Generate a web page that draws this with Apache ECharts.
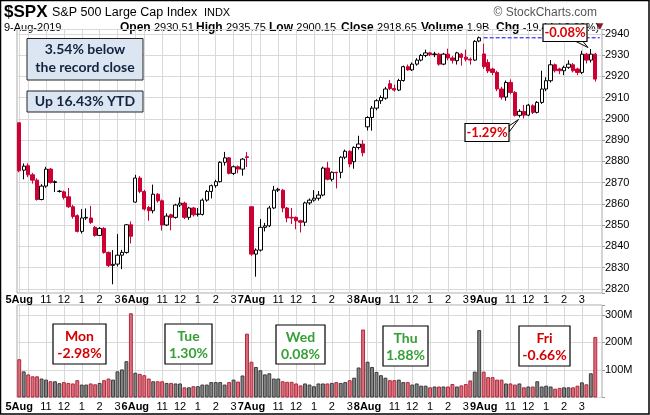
<!DOCTYPE html>
<html><head><meta charset="utf-8">
<script src="https://cdn.jsdelivr.net/npm/echarts@6/dist/echarts.min.js"></script>
<style>html,body{margin:0;padding:0;background:#fff}#c{width:650px;height:415px}</style>
</head><body><div id="c"></div>
<script>
// ---- axis / tick data ----
const dayLabels = ['5Aug', '6Aug', '7Aug', '8Aug', '9Aug'];
const hourLabels = ['11', '12', '1', '2', '3'];
const hourBarOffsets = [6, 10, 14, 18, 22];
const gridBarOffsets = [0, 2, 6, 10, 14, 18, 22];
const barsPerDay = 26;
const priceMin = 2818, priceMax = 2942, priceStep = 10;
const volMax = 336, volStep = 100;

// ---- 15-minute bars: [open, close, low, high] ----
const aug5Bars = [
  [2898.1,2875.5,2874.8,2898.1],[2875.8,2877.7,2871.5,2879.0],[2877.9,2873.6,2872.5,2879.0],
  [2873.6,2871.1,2869.5,2874.5],[2871.1,2862.0,2861.5,2872.0],[2862.0,2868.3,2861.6,2869.2],
  [2868.3,2876.3,2867.5,2877.4],[2876.3,2870.0,2869.5,2876.8],[2870.0,2870.4,2865.5,2871.0],
  [2865.8,2865.9,2865.3,2866.4],[2865.6,2863.0,2862.0,2866.2],[2863.3,2858.6,2858.0,2867.4],
  [2858.6,2854.0,2853.0,2859.5],[2854.4,2847.0,2846.5,2855.0],[2847.0,2853.3,2846.0,2857.5],
  [2853.3,2853.6,2852.4,2857.8],[2853.3,2851.2,2850.5,2859.0],[2848.9,2845.1,2844.5,2849.5],
  [2845.1,2848.4,2844.8,2849.0],[2848.4,2837.1,2836.5,2849.0],[2837.1,2831.0,2830.2,2837.5],
  [2831.0,2831.5,2822.1,2838.2],[2831.6,2835.8,2830.5,2845.7],[2835.8,2837.1,2829.2,2838.3],
  [2837.1,2850.1,2836.5,2850.5],[2850.1,2844.7,2841.3,2851.7]
];
const aug6Bars = [
  [2860.8,2872.1,2860.5,2873.6],[2872.1,2865.8,2865.0,2873.0],[2865.8,2857.5,2856.8,2866.5],
  [2858.3,2856.7,2852.0,2859.0],[2856.7,2864.5,2855.5,2869.0],[2864.5,2861.4,2860.5,2865.0],
  [2861.4,2850.0,2847.4,2862.0],[2850.0,2854.2,2849.5,2855.5],[2854.8,2853.6,2847.5,2855.3],
  [2853.6,2859.4,2853.0,2860.0],[2859.4,2860.3,2858.5,2863.0],[2860.3,2853.6,2852.8,2861.0],
  [2853.6,2858.0,2852.4,2858.6],[2858.0,2854.8,2854.0,2858.5],[2855.0,2855.2,2854.0,2858.0],
  [2855.0,2861.7,2854.5,2862.5],[2861.7,2865.8,2861.0,2866.5],[2865.8,2868.5,2862.5,2869.0],
  [2868.5,2870.4,2867.5,2871.3],[2870.4,2879.5,2870.0,2880.0],[2879.5,2881.6,2878.0,2884.4],
  [2881.6,2874.3,2873.8,2882.0],[2874.3,2877.4,2873.5,2878.0],[2877.4,2876.3,2874.3,2878.0],
  [2876.3,2881.0,2873.2,2881.5],[2882.1,2881.8,2877.3,2884.3]
];
const aug7Bars = [
  [2858.6,2836.3,2835.5,2858.7],[2836.3,2838.2,2825.7,2839.0],[2838.2,2848.9,2837.5,2852.8],
  [2848.9,2849.6,2847.0,2851.0],[2849.6,2858.0,2849.0,2859.0],[2858.0,2866.4,2857.5,2868.4],
  [2866.4,2866.8,2865.5,2867.5],[2866.4,2858.0,2856.0,2867.0],[2858.0,2853.3,2851.3,2858.5],
  [2853.6,2853.3,2850.5,2858.0],[2853.6,2852.0,2848.0,2854.0],[2852.0,2851.3,2846.5,2852.5],
  [2851.3,2860.4,2849.5,2861.0],[2860.4,2861.7,2859.5,2862.5],[2861.7,2862.6,2861.0,2866.4],
  [2862.6,2864.1,2861.5,2866.0],[2864.1,2876.8,2863.5,2877.5],[2876.8,2871.5,2871.0,2879.7],
  [2871.5,2874.8,2870.5,2875.2],[2874.8,2874.6,2867.2,2875.0],[2874.8,2881.9,2872.0,2882.3],
  [2881.9,2884.7,2881.0,2885.5],[2884.7,2878.7,2877.2,2885.2],[2879.8,2886.5,2876.5,2887.0],
  [2886.5,2888.1,2885.5,2892.0],[2888.1,2884.0,2882.3,2890.0]
];
const aug8Bars = [
  [2896.2,2900.6,2894.5,2901.2],[2900.6,2905.0,2894.4,2906.0],[2905.0,2908.5,2904.0,2909.2],
  [2908.5,2910.0,2907.0,2911.0],[2909.7,2914.0,2909.0,2915.0],[2916.5,2914.2,2913.5,2918.2],
  [2914.2,2913.5,2912.8,2916.0],[2913.5,2918.0,2913.0,2918.8],[2918.0,2924.5,2917.5,2925.0],
  [2924.5,2923.0,2922.6,2925.5],[2923.0,2925.7,2922.5,2926.5],[2925.7,2927.6,2925.0,2928.5],
  [2927.6,2929.8,2927.0,2930.5],[2929.8,2931.0,2929.0,2932.5],[2931.0,2930.2,2929.5,2931.5],
  [2930.2,2930.5,2929.0,2931.5],[2930.4,2925.7,2925.0,2931.0],[2925.7,2930.4,2925.2,2931.0],
  [2930.4,2928.6,2927.5,2933.0],[2928.6,2927.5,2926.0,2929.5],[2927.3,2931.0,2925.5,2931.5],
  [2930.4,2928.9,2925.0,2931.0],[2929.0,2928.0,2927.0,2932.5],[2928.0,2927.6,2925.5,2928.8],
  [2927.6,2936.4,2927.2,2937.0],[2936.6,2938.1,2936.0,2938.7]
];
const aug9Bars = [
  [2930.5,2924.5,2923.5,2935.3],[2926.5,2922.5,2921.5,2928.0],[2923.4,2921.8,2920.5,2924.0],
  [2921.8,2914.0,2913.0,2922.6],[2914.0,2910.2,2909.0,2915.0],[2910.2,2917.1,2908.5,2918.0],
  [2917.1,2912.4,2911.5,2918.5],[2912.4,2901.6,2901.0,2913.0],[2901.6,2903.5,2900.6,2904.5],
  [2903.5,2901.7,2900.15,2906.5],[2901.7,2906.4,2901.2,2907.0],[2906.1,2903.0,2902.2,2906.8],
  [2903.0,2907.7,2902.5,2908.3],[2907.7,2914.0,2907.0,2922.6],[2914.0,2917.9,2913.0,2919.5],
  [2917.9,2925.4,2917.0,2927.6],[2925.4,2922.6,2921.8,2926.0],[2923.4,2922.6,2921.0,2924.0],
  [2922.6,2924.2,2920.5,2925.0],[2924.2,2925.7,2923.5,2927.5],[2925.4,2922.6,2921.8,2926.2],
  [2923.4,2921.8,2920.5,2924.0],[2921.8,2930.4,2921.0,2932.0],[2930.4,2927.6,2926.0,2931.0],
  [2927.6,2930.4,2926.5,2932.8],[2930.4,2918.65,2917.5,2931.0]
];

// ---- volume per bar (millions) ----
const aug5Vol = [139,95,84,77,77,69,65,59,59,52,56,53,51,63,47,47,51,48,53,63,69,65,95,102,132,306];
const aug6Vol = [90,86,81,69,59,59,59,53,53,51,51,37,37,41,41,47,47,56,56,56,47,56,65,58,80,232];
const aug7Vol = [130,111,99,84,88,69,69,59,57,57,51,44,51,47,41,51,51,51,53,56,53,56,63,72,109,247];
const aug8Vol = [130,111,93,81,72,63,63,65,56,56,47,51,43,43,37,40,40,40,40,49,40,44,49,62,94,245];
const aug9Vol = [94,74,74,65,65,51,51,47,51,37,40,40,59,40,43,40,32,35,37,37,37,43,55,48,88,220];

const prevClose = 2938.09;

// ---- texts ----
const headerDate = '9-Aug-2019';
const quoteLabels = ['Open', 'High', 'Low', 'Close', 'Volume', 'Chg'];
const quoteValues = ['2930.51', '2935.75', '2900.15', '2918.65', '1.9B', '-19.44 (-0.66%)'];
const noteLines = ['3.54% below', 'the record close'];
const ytdNote = 'Up 16.43% YTD';
const dayNames = ['Mon', 'Tue', 'Wed', 'Thu', 'Fri'];
const dayChanges = ['-2.98%', '1.30%', '0.08%', '1.88%', '-0.66%'];
const calloutTexts = ['-0.08%', '-1.29%'];

// ---- build ----
const allBars = [].concat(aug5Bars, aug6Bars, aug7Bars, aug8Bars, aug9Bars);
const allVol = [].concat(aug5Vol, aug6Vol, aug7Vol, aug8Vol, aug9Vol);
const nBars = allBars.length;
const cats = [];
for (let i = 0; i <= nBars; i++) cats.push('c' + i);
function labelFor(i) {
  if (i >= nBars) return '';
  const k = i % barsPerDay, d = Math.floor(i / barsPerDay);
  if (k === 0) return '{d|' + dayLabels[d] + '}';
  const h = hourBarOffsets.indexOf(k);
  return h >= 0 ? hourLabels[h] : '';
}
const splitFn = (i) => i < nBars && gridBarOffsets.indexOf(i % barsPerDay) >= 0;
const labelFn = (i) => labelFor(i) !== '';
const volData = allVol.map((v, i) => {
  const up = allBars[i][1] >= allBars[i][0];
  return { value: v, itemStyle: up ? { color: '#858585', borderColor: '#3c3c3c' } : { color: '#d9707c', borderColor: '#b3283b' } };
});
const lastDayStart = nBars - barsPerDay;
const prevLine = cats.map((c, i) => i >= lastDayStart ? prevClose : null);

const F = '"Liberation Sans", Arial, sans-serif';
const L = 'Lato, "Open Sans", sans-serif';
const GRID = '#d9d9d9';

function xAxisCfg(gi) {
  return {
    type: 'category', gridIndex: gi, data: cats, boundaryGap: true,
    axisLine: { show: false }, axisTick: { show: false },
    axisLabel: {
      interval: labelFn, formatter: (v, i) => labelFor(i), margin: gi === 0 ? 1 : 4,
      color: '#000', fontFamily: F, fontSize: 11, hideOverlap: false,
      rich: { d: { fontWeight: 'bold', fontSize: 11, fontFamily: F, color: '#000' } }
    },
    splitLine: { show: true, interval: splitFn, alignWithLabel: true, lineStyle: { color: GRID, width: 1 } }
  };
}

const quoteX = [120, 196, 269, 341, 421, 496];
const graphics = [
  { type: 'text', x: 4, y: 12, style: { text: '$SPX', font: 'bold 17px ' + F, fill: '#000', verticalAlign: 'middle' } },
  { type: 'text', x: 52, y: 13, style: { text: '{a|S&P 500 Large Cap Index}  {c|INDX}', verticalAlign: 'middle',
      rich: { a: { font: '12.5px ' + F, fill: '#000' }, c: { font: '11px ' + F, fill: '#000' } } } },
  { type: 'text', x: 597, y: 13, style: { text: '\u00A9 StockCharts.com', font: '12px ' + F, fill: '#555', align: 'right', verticalAlign: 'middle' } },
  { type: 'text', x: 4, y: 27.5, style: { text: headerDate, font: '11px ' + F, fill: '#000', verticalAlign: 'middle' } },
  { type: 'text', x: 600, y: 27, style: { text: '\u25BC', font: '9px "DejaVu Sans"', fill: '#8b1c2c', align: 'center', verticalAlign: 'middle' } }
];
quoteLabels.forEach((lab, i) => {
  graphics.push({ type: 'text', x: quoteX[i], y: 27.5, style: {
    text: '{b|' + lab + '} {v|' + quoteValues[i] + '}', verticalAlign: 'middle',
    rich: { b: { font: 'bold 12px ' + F, fill: '#000' }, v: { font: '11px ' + F, fill: '#000' } } } });
});
// top-left note boxes
graphics.push(
  { type: 'rect', shape: { x: 27, y: 38.5, width: 116, height: 41.5 }, style: { fill: '#dce6f2', stroke: '#222', lineWidth: 1 }, z: 10 },
  { type: 'text', x: 85, y: 49.5, style: { text: noteLines[0], font: 'bold 14px ' + L, fill: '#13233f', align: 'center', verticalAlign: 'middle' }, z: 11 },
  { type: 'text', x: 85, y: 67, style: { text: noteLines[1], font: 'bold 14px ' + L, fill: '#13233f', align: 'center', verticalAlign: 'middle' }, z: 11 },
  { type: 'rect', shape: { x: 27, y: 91, width: 116, height: 21 }, style: { fill: '#dce6f2', stroke: '#222', lineWidth: 1 }, z: 10 },
  { type: 'text', x: 85, y: 101.5, style: { text: ytdNote, font: 'bold 14px ' + L, fill: '#13233f', align: 'center', verticalAlign: 'middle' }, z: 11 }
);
// day note boxes in the volume panel
const noteBoxes = [[53, 324, 53, 40], [165, 324, 47, 40], [276, 325, 49, 39], [383, 326, 45, 40], [519, 326, 51, 40]];
dayNames.forEach((nm, i) => {
  const b = noteBoxes[i];
  const col = dayChanges[i].charAt(0) === '-' ? '#d40000' : '#35a035';
  const cx = b[0] + b[2] / 2;
  graphics.push(
    { type: 'rect', shape: { x: b[0], y: b[1], width: b[2], height: b[3] }, style: { fill: '#fff', stroke: '#000', lineWidth: 1.2 }, z: 10 },
    { type: 'text', x: cx, y: b[1] + 12, style: { text: nm, font: 'bold 14px ' + L, fill: col, align: 'center', verticalAlign: 'middle' }, z: 11 },
    { type: 'text', x: cx, y: b[1] + 29, style: { text: dayChanges[i], font: 'bold 14px ' + L, fill: col, align: 'center', verticalAlign: 'middle' }, z: 11 }
  );
});
// callouts
graphics.push(
  { type: 'polygon', shape: { points: [[576, 41.5], [583, 41.5], [588, 47.5]] }, style: { fill: '#fff', stroke: '#000', lineWidth: 1 }, z: 20 },
  { type: 'rect', shape: { x: 543, y: 24, width: 44, height: 17.5 }, style: { fill: '#fff', stroke: '#000', lineWidth: 1.2 }, z: 21 },
  { type: 'text', x: 565, y: 33, style: { text: calloutTexts[0], font: 'bold 13px ' + L, fill: '#e00000', align: 'center', verticalAlign: 'middle' }, z: 22 },
  { type: 'polygon', shape: { points: [[509, 126], [509, 132], [518.5, 119.5]] }, style: { fill: '#fff', stroke: '#000', lineWidth: 1 }, z: 20 },
  { type: 'rect', shape: { x: 465, y: 123.5, width: 44, height: 18 }, style: { fill: '#fff', stroke: '#000', lineWidth: 1.2 }, z: 21 },
  { type: 'text', x: 487, y: 133, style: { text: calloutTexts[1], font: 'bold 13px ' + L, fill: '#e00000', align: 'center', verticalAlign: 'middle' }, z: 22 },
  { type: 'rect', shape: { x: 0.5, y: 0.5, width: 648.5, height: 413.5 }, style: { fill: 'none', stroke: '#000', lineWidth: 1.5 }, z: 50 }
);

const chart = echarts.init(document.getElementById('c'), null, { renderer: 'canvas' });
chart.setOption({
  animation: false,
  backgroundColor: '#fff',
  grid: [
    { left: 17, top: 29.5, width: 585, height: 263.5, show: true, borderColor: '#aaa', borderWidth: 1, backgroundColor: '#fff' },
    { left: 17, top: 305, width: 585, height: 92.5, show: true, borderColor: '#aaa', borderWidth: 1, backgroundColor: '#fff' }
  ],
  xAxis: [xAxisCfg(0), xAxisCfg(1)],
  yAxis: [
    { type: 'value', gridIndex: 0, position: 'right', min: priceMin, max: priceMax, minInterval: priceStep, maxInterval: priceStep,
      axisLine: { show: false }, axisTick: { show: true, length: 3, lineStyle: { color: '#999' } },
      axisLabel: { margin: 3, color: '#000', fontFamily: F, fontSize: 11, formatter: v => (v % priceStep === 0 ? String(v) : '') },
      splitLine: { lineStyle: { color: GRID } } },
    { type: 'value', gridIndex: 1, position: 'right', min: 0, max: volMax, minInterval: volStep, maxInterval: volStep,
      axisLine: { show: false }, axisTick: { show: true, length: 3, lineStyle: { color: '#999' } },
      axisLabel: { margin: 3, color: '#000', fontFamily: F, fontSize: 11, formatter: v => (v > 0 && v % volStep === 0 ? v + 'M' : '') },
      splitLine: { lineStyle: { color: GRID } } }
  ],
  series: [
    { type: 'candlestick', xAxisIndex: 0, yAxisIndex: 0, data: allBars, barWidth: 3.8,
      itemStyle: { color: '#ffffff', color0: '#cc0033', borderColor: '#000000', borderColor0: '#cc0033', borderWidth: 1 } },
    { type: 'line', xAxisIndex: 0, yAxisIndex: 0, data: prevLine, symbol: 'none', connectNulls: false,
      lineStyle: { color: '#0000ff', type: [4, 2], width: 1 }, z: 3 },
    { type: 'bar', xAxisIndex: 1, yAxisIndex: 1, data: volData, barWidth: 3.9, itemStyle: { borderWidth: 1 } }
  ],
  graphic: graphics
});
</script></body></html>
